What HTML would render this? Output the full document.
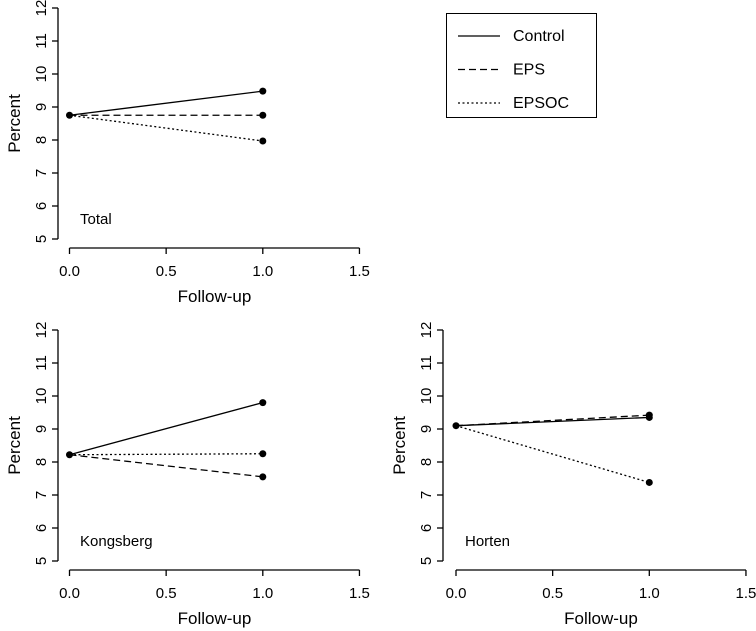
<!DOCTYPE html>
<html><head><meta charset="utf-8"><style>
body{margin:0;background:#fff}
svg{display:block;font-family:"Liberation Sans",Arial,sans-serif}
</style></head><body>
<svg id="c" width="756" height="631" viewBox="0 0 756 631"></svg>
<script>
const groups=["Total","Kongsberg","Horten"];
const series=["Control","EPS","EPSOC"];
const baseline=[8.75,8.22,9.1];
const controlVals=[9.48,9.8,9.35];
const epsVals=[8.75,7.55,9.42];
const epsocVals=[7.97,8.25,7.38];
const xTicks=[0,0.5,1,1.5];
const xTickLabels=["0.0","0.5","1.0","1.5"];
const yTicks=[5,6,7,8,9,10,11,12];
const dashes=["","7,4","2,2.5"];
const NS="http://www.w3.org/2000/svg";
const svg=document.getElementById('c');
function mk(t,a,p){const e=document.createElementNS(NS,t);for(const k in a)e.setAttribute(k,a[k]);(p||svg).appendChild(e);return e;}
const panels=[{ax:58,x0:69.5,top:8},{ax:58,x0:69.5,top:330},{ax:443,x0:456,top:330}];
const vals=[controlVals,epsVals,epsocVals];
panels.forEach((p,i)=>{
  const g=mk('g',{});
  
  
  const xs=v=>p.x0+v*193.3;
  const ys=v=>p.top+(12-v)*33;
  const xAxisY=p.top+240;
  mk('line',{x1:p.ax,x2:p.ax,y1:ys(12),y2:ys(5),stroke:'#000','stroke-width':1.3},g);
  yTicks.forEach(t=>{
    mk('line',{x1:p.ax-6,x2:p.ax,y1:ys(t),y2:ys(t),stroke:'#000','stroke-width':1.3},g);
    const tx=mk('text',{x:0,y:0,'font-size':15,'text-anchor':'middle',transform:`translate(${p.ax-12},${ys(t)}) rotate(-90)`},g);
    tx.textContent=t;
  });
  mk('line',{x1:xs(0),x2:xs(1.5),y1:xAxisY,y2:xAxisY,stroke:'#000','stroke-width':1.3},g);
  xTicks.forEach((t,j)=>{
    mk('line',{x1:xs(t),x2:xs(t),y1:xAxisY,y2:xAxisY+6,stroke:'#000','stroke-width':1.3},g);
    const tx=mk('text',{x:xs(t),y:xAxisY+28,'font-size':15,'text-anchor':'middle'},g);
    tx.textContent=xTickLabels[j];
  });
  const xl=mk('text',{x:xs(0.75),y:xAxisY+54,'font-size':17,'text-anchor':'middle'},g);
  
  
  xl.textContent='Follow-up';
  const yl=mk('text',{x:0,y:0,'font-size':17,'text-anchor':'middle',transform:`translate(${p.ax-38},${ys(8.5)}) rotate(-90)`},g);
  
  
  yl.textContent='Percent';
  const pl=mk('text',{x:p.ax+22,y:ys(5.45),'font-size':15},g);
  
  
  pl.textContent=groups[i];
  vals.forEach((arr,s)=>{
    const l=mk('line',{x1:xs(0),y1:ys(baseline[i]),x2:xs(1),y2:ys(arr[i]),stroke:'#000','stroke-width':1.3,'stroke-dasharray':dashes[s]},g);
    
    
    const c=mk('circle',{cx:xs(1),cy:ys(arr[i]),r:3.5,fill:'#000'},g);
    
    
  });
  const c0=mk('circle',{cx:xs(0),cy:ys(baseline[i]),r:3.5,fill:'#000'},g);
  
  
});
const lg=mk('g',{});


mk('rect',{x:446.5,y:13.5,width:150,height:104,fill:'none',stroke:'#000','stroke-width':1},lg);
series.forEach((s,k)=>{
  const y=36+k*33.5;
  const e=mk('g',{},lg);
  
  
  mk('line',{x1:458,x2:500,y1:y,y2:y,stroke:'#000','stroke-width':1.3,'stroke-dasharray':dashes[k]},e);
  const t=mk('text',{x:513,y:y+5,'font-size':16},e);
  t.textContent=s;
});
</script>
</body></html>
